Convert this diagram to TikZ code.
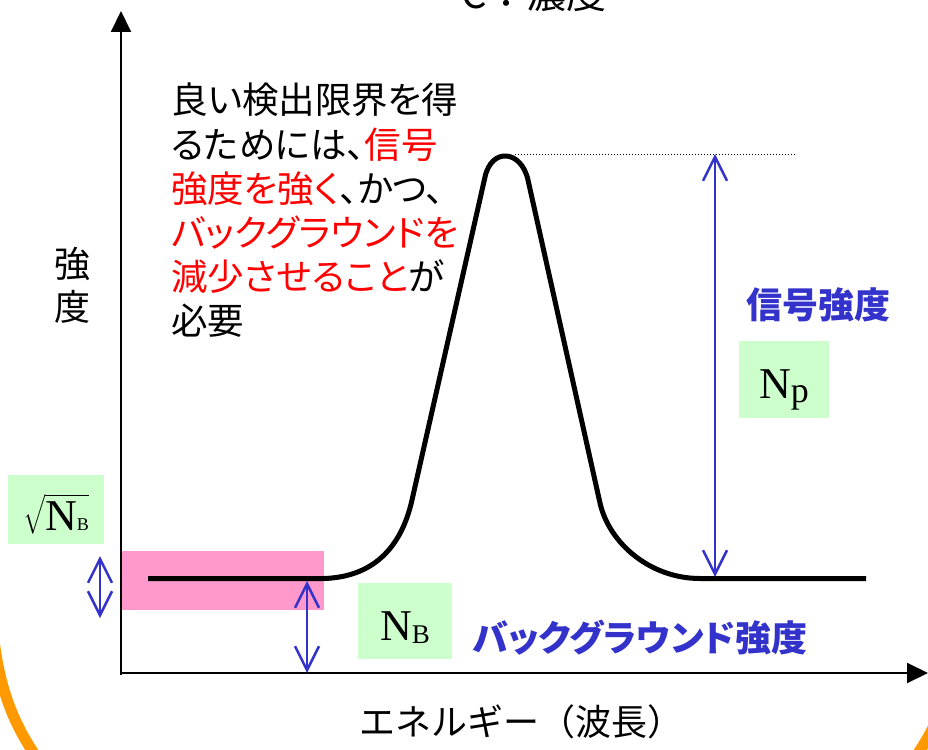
\documentclass[tikz,border=0pt]{standalone}
\usepackage{graphicx}
\usepackage{fontspec}
\setmainfont{Liberation Serif}
\newfontfamily\jp{Noto Sans CJK JP}
\newfontfamily\jpp[RawFeature={+palt}]{Noto Sans CJK JP}
\usetikzlibrary{arrows.meta}
\definecolor{myblue}{RGB}{51,51,204}
\definecolor{mygreen}{RGB}{204,255,204}
\definecolor{mypink}{RGB}{255,153,204}
\definecolor{myorange}{RGB}{255,153,0}
\tikzset{
  axis/.style={line width=2pt, -{Triangle[length=21pt,width=20pt]}},
  dim/.style={myblue, line width=2.5pt, {Straight Barb[length=24pt,width=24pt]}-{Straight Barb[length=24pt,width=24pt]}},
  greenbox/.style={fill=mygreen, inner sep=0pt, text depth=0pt},
  jtext/.style={inner sep=0pt, font=\jpp\fontsize{36.5}{44.2}\selectfont},
  bluetext/.style={inner sep=0pt, text=myblue, font=\jpp\bfseries\fontsize{36}{40}\selectfont},
}
\begin{document}
\begin{tikzpicture}[x=1pt,y=-1pt]
\useasboundingbox (0,0) rectangle (928,749);
\clip (0,0) rectangle (928,749);
% orange frame corners
\draw[myorange, line width=11pt] (-6,640) .. controls (0,690) and (14,726) .. (40,762);
\draw[myorange, line width=11pt] (958,640) .. controls (952,690) and (938,726) .. (912,762);
% pink band
\fill[mypink] (122,551) rectangle (324,610);
% axes
\coordinate (O) at (121,673);
\coordinate (ytop) at (121,11);
\coordinate (xend) at (928,673);
\draw[axis] (121,675) -- (ytop);
\draw[axis] (O) -- (xend);
% spectrum curve
\draw[line width=5pt, line join=round]
  (148,578.5) -- (324,578.5)
  .. controls (372,577) and (401,549) .. (412,500)
  -- (485,177)
  .. controls (491.6,147) and (521.3,150) .. (528,180)
  -- (600,503)
  .. controls (609,543) and (650,578.5) .. (700,578.5)
  -- (866,578.5);
% dotted peak level
\coordinate (pk) at (515,154);
\coordinate (pkend) at (795,154);
\draw[line width=1pt, dash pattern=on 1pt off 2pt] (pk) -- (pkend);
% dimension arrows
\coordinate (npT) at (715,154);
\coordinate (npB) at (715,577);
\draw[dim] (npT) -- (npB);
\coordinate (sqT) at (100,556);
\coordinate (sqB) at (100,618);
\draw[dim] (sqT) -- (sqB);
\coordinate (nbT) at (307,581);
\coordinate (nbB) at (307,673);
\draw[dim] (nbT) -- (nbB);
% green boxes
\node[greenbox, minimum width=96pt, minimum height=69pt, text height=41pt] (sqrtnb) at (56,509.5)
  {\scalebox{2.2}{$\sqrt{\hbox{\fontsize{20}{20}\selectfont N\fontsize{8.2}{8.2}\selectfont B}}$}};
\node[greenbox, minimum width=90pt, minimum height=77pt, text height=37pt] (np) at (784,379.5)
  {\fontsize{44}{44}\selectfont N\raisebox{-4pt}{\fontsize{36}{36}\selectfont p}};
\node[greenbox, minimum width=94pt, minimum height=76pt, text height=38pt] (nb) at (405,621)
  {\fontsize{44}{44}\selectfont N\raisebox{-3pt}{\fontsize{27}{27}\selectfont B}};
% texts
\node[inner sep=0pt, anchor=base, font=\jp\fontsize{40}{40}\selectfont] (title) at (534,9) {C：濃度};
\node[jtext, anchor=north west, align=left] (note) at (171,83)
  {良い検出限界を得\\
   るためには、{\color{red}信号}\\
   {\color{red}強度を強く}、かつ、\\
   {\color{red}バックグラウンドを}\\
   {\color{red}減少させること}が\\
   必要};
\node[inner sep=0pt, align=center, font=\jp\fontsize{36}{43}\selectfont] (ylab) at (72,285) {強\\度};
\node[inner sep=0pt, font=\jp\fontsize{36}{40}\selectfont] (xlab) at (521,722) {エネルギー（波長）};
\node[bluetext] (sig) at (818,305) {信号強度};
\node[bluetext] (bg) at (640,638) {バックグラウンド強度};
\end{tikzpicture}
\end{document}
